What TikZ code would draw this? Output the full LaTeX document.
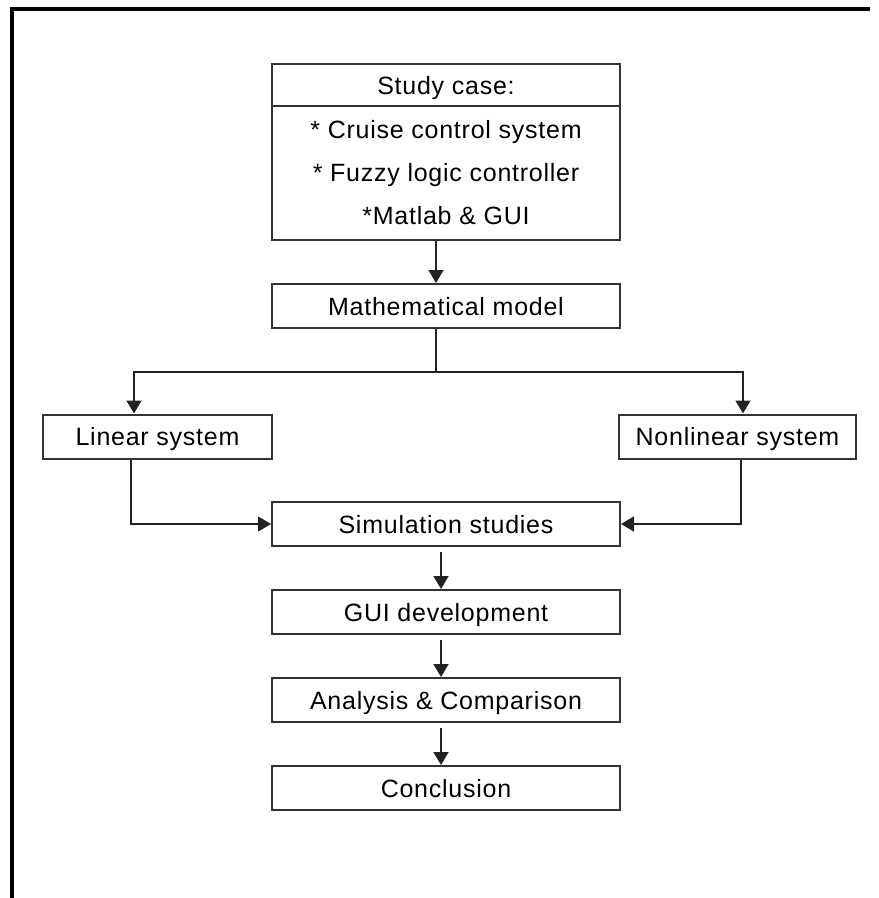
\documentclass[tikz,border=0pt]{standalone}
\usepackage{fontspec}
\setmainfont[LetterSpace=3]{Liberation Sans}
\usetikzlibrary{arrows.meta, positioning, calc}
\definecolor{boxline}{HTML}{333333}
\definecolor{flowline}{HTML}{222222}
\tikzstyle{process} = [rectangle, minimum width=348pt, minimum height=44pt, text centered, draw=boxline, line width=2pt, inner sep=0pt, text height=18pt, text depth=0pt, font=\fontsize{25}{30}\selectfont]
\tikzstyle{flow} = [line width=1.5pt, color=flowline]
\tikzstyle{arrow} = [flow, -{Triangle[width=15pt,length=13pt]}]

\begin{document}
\begin{tikzpicture}[x=1pt, y=-1pt, node distance=42pt]
    \useasboundingbox (0,0) rectangle (879,898);
    % Frame
    \draw[line width=4pt] (870,9) -- (12,9) -- (12,898);

    % Nodes
    \node[process, minimum height=42pt] (studyhead) at (446,85) {Study case:};
    \node[process, minimum height=134pt, below=-2pt of studyhead, align=center, text height=, text depth=, font=\fontsize{25}{43}\selectfont] (study) {* Cruise control system\\* Fuzzy logic controller\\*Matlab \& GUI};
    \node[process, below=of study] (math) {Mathematical model};

    % Branches
    \node[process, minimum width=229pt] (linear) at (157.5,436.5) {Linear system};
    \node[process, minimum width=237pt] (nonlinear) at (737.5,436.5) {Nonlinear system};
    \coordinate (fork) at (436,372);

    % Lower column
    \node[process] (sim) at (446,524) {Simulation studies};
    \node[process, below=of sim] (gui) {GUI development};
    \node[process, below=of gui] (analysis) {Analysis \& Comparison};
    \node[process, below=of analysis] (conclusion) {Conclusion};

    % Arrows
    \draw[arrow] ([xshift=-10pt]study.south) -- ([xshift=-10pt]math.north);
    \draw[flow] ([xshift=-10pt]math.south) -- (fork);
    \draw[arrow] (fork) -| ([xshift=-23.5pt]linear.north);
    \draw[arrow] (fork) -| ([xshift=5.5pt]nonlinear.north);
    \draw[arrow] ([xshift=-26.5pt]linear.south) |- (sim.west);
    \draw[arrow] ([xshift=3.5pt]nonlinear.south) |- (sim.east);
    \draw[arrow, shorten <=5pt] ([xshift=-5pt]sim.south) -- ([xshift=-5pt]gui.north);
    \draw[arrow, shorten <=5pt] ([xshift=-5pt]gui.south) -- ([xshift=-5pt]analysis.north);
    \draw[arrow, shorten <=5pt] ([xshift=-5pt]analysis.south) -- ([xshift=-5pt]conclusion.north);
\end{tikzpicture}
\end{document}
